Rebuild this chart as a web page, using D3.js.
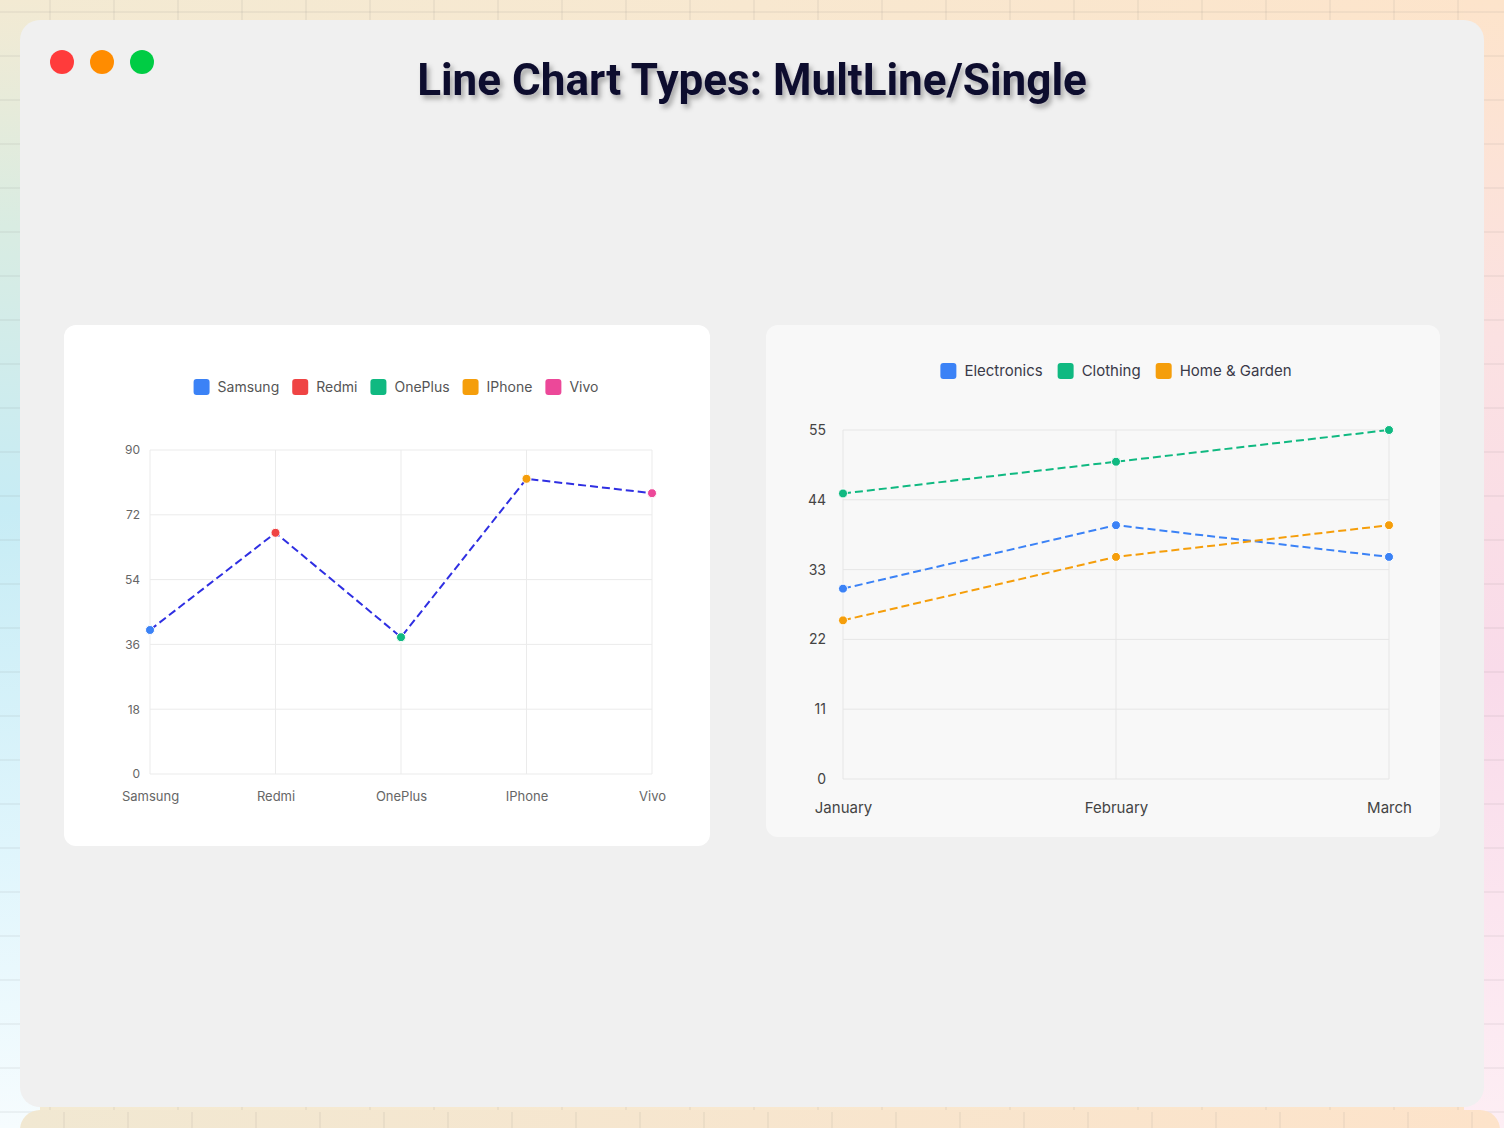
<!DOCTYPE html>
<html>
<head>
<meta charset="utf-8">
<script src="https://cdn.jsdelivr.net/npm/d3@7"></script>
<style>
  html, body { margin: 0; padding: 0; background: #f0f0f0; }
  svg { display: block; }
</style>
</head>
<body>
<div id="page"></div>
<script>
// --- DATA ---
var phoneNames = ["Samsung", "Redmi", "OnePlus", "IPhone", "Vivo"];
var phoneValues = [40, 67, 38, 82, 78];
var phoneColors = ["#3b82f6", "#ef4444", "#10b981", "#f59e0b", "#ec4899"];
var phoneTicks = [0, 18, 36, 54, 72, 90];

var months = ["January", "February", "March"];
var salesSeries = [
  { name: "Electronics", color: "#3b82f6", values: [30, 40, 35] },
  { name: "Clothing", color: "#10b981", values: [45, 50, 55] },
  { name: "Home & Garden", color: "#f59e0b", values: [25, 35, 40] }
];
var salesTicks = [0, 11, 22, 33, 44, 55];

var titleText = "Line Chart Types: MultLine/Single";

// --- SETUP ---
var W = 1504, H = 1128;
var svg = d3.select("#page").append("svg").attr("width", W).attr("height", H);
var defs = svg.append("defs");

function linGrad(id, x2, y2, stops) {
  var g = defs.append("linearGradient").attr("id", id)
    .attr("x1", 0).attr("y1", 0).attr("x2", x2).attr("y2", y2);
  stops.forEach(function(s) { g.append("stop").attr("offset", s[0]).attr("stop-color", s[1]); });
}
linGrad("gTop", 1, 0, [[0, "#f3ead3"], [0.5, "#f8e8d0"], [1, "#fde4cb"]]);
linGrad("gLeft", 0, 1, [[0, "#f3ead3"], [0.2, "#d9ece2"], [0.45, "#c7ecf5"], [0.75, "#dff5fc"], [1, "#f6fcfe"]]);
linGrad("gRight", 0, 1, [[0, "#fde4cb"], [0.3, "#fbe1e2"], [0.6, "#f9dbea"], [1, "#fdeef4"]]);
linGrad("gBottom", 1, 0, [[0, "#f1e8d2"], [1, "#fde3ca"]]);

var shadow = defs.append("filter").attr("id", "titleShadow")
  .attr("x", "-10%").attr("y", "-30%").attr("width", "120%").attr("height", "160%");
shadow.append("feDropShadow").attr("dx", 3).attr("dy", 4).attr("stdDeviation", 2.5)
  .attr("flood-color", "#000").attr("flood-opacity", 0.3);

// --- 1. BACKGROUND ---
svg.append("rect").attr("width", W).attr("height", H).attr("fill", "url(#gTop)");
svg.append("rect").attr("x", 0).attr("y", 0).attr("width", 40).attr("height", H).attr("fill", "url(#gLeft)");
svg.append("rect").attr("x", W - 40).attr("y", 0).attr("width", 40).attr("height", H).attr("fill", "url(#gRight)");

var bgGrid = svg.append("g").attr("stroke", "rgba(120,120,120,0.08)").attr("stroke-width", 2);
d3.range(50, W, 64).forEach(function(x) {
  bgGrid.append("line").attr("x1", x).attr("x2", x).attr("y1", 0).attr("y2", H);
});
d3.range(12, H, 44).forEach(function(y) {
  bgGrid.append("line").attr("x1", 0).attr("x2", W).attr("y1", y).attr("y2", y);
});

// next section peeking at the bottom
svg.append("rect").attr("x", 20).attr("y", 1110).attr("width", 1480).attr("height", 60)
  .attr("rx", 20).attr("fill", "url(#gBottom)");
var botGrid = svg.append("g").attr("stroke", "rgba(120,120,120,0.08)").attr("stroke-width", 2);
d3.range(64, W, 64).forEach(function(x) {
  botGrid.append("line").attr("x1", x).attr("x2", x).attr("y1", 1112).attr("y2", H);
});

// main window card
svg.append("rect").attr("x", 20).attr("y", 20).attr("width", 1464).attr("height", 1087)
  .attr("rx", 20).attr("fill", "#f0f0f0");

// window buttons
[["#ff3b3b", 62], ["#ff8c00", 102], ["#00cc44", 142]].forEach(function(b) {
  svg.append("circle").attr("cx", b[1]).attr("cy", 62).attr("r", 12).attr("fill", b[0]);
});

// title
svg.append("text").attr("x", 752).attr("y", 95)
  .attr("text-anchor", "middle")
  .attr("font-family", "Roboto, sans-serif").attr("font-weight", 700)
  .attr("font-size", 44).attr("fill", "#0e0b2e")
  .attr("filter", "url(#titleShadow)")
  .text(titleText);

// --- 2. HELPERS ---
function drawLegend(g, items, cx, cy, font, size, color, gap) {
  var lg = g.append("g");
  var x = 0;
  items.forEach(function(it) {
    var item = lg.append("g").attr("transform", "translate(" + x + ",0)");
    item.append("rect").attr("x", 0).attr("y", -8).attr("width", 16).attr("height", 16)
      .attr("rx", 3).attr("fill", it.color);
    var t = item.append("text").attr("x", 24).attr("y", 0).attr("dy", "0.35em")
      .attr("font-family", font).attr("font-size", size).attr("fill", color)
      .text(it.name);
    x += 24 + t.node().getComputedTextLength() + gap;
  });
  var total = x - gap;
  lg.attr("transform", "translate(" + (cx - total / 2) + "," + cy + ")");
}

function dashedLine(g, pts, x, y, color) {
  g.append("path").datum(pts)
    .attr("fill", "none").attr("stroke", color).attr("stroke-width", 2)
    .attr("stroke-dasharray", "8,4")
    .attr("d", d3.line().x(function(d) { return x(d.k); }).y(function(d) { return y(d.v); }));
}

// --- 3. LEFT CARD: single line ---
var left = svg.append("g");
left.append("rect").attr("x", 64).attr("y", 325).attr("width", 646).attr("height", 521)
  .attr("rx", 12).attr("fill", "#ffffff");

var lx = d3.scalePoint().domain(phoneNames).range([150, 652]);
var ly = d3.scaleLinear().domain([0, 90]).range([774, 450]);

var lGrid = left.append("g").attr("stroke", "#ebebeb").attr("stroke-width", 1);
phoneTicks.forEach(function(t) {
  lGrid.append("line").attr("x1", lx.range()[0]).attr("x2", lx.range()[1]).attr("y1", ly(t)).attr("y2", ly(t));
});
phoneNames.forEach(function(n) {
  lGrid.append("line").attr("x1", lx(n)).attr("x2", lx(n)).attr("y1", ly(0)).attr("y2", ly(90));
});

var lyAxis = left.append("g").attr("transform", "translate(" + lx.range()[0] + ",0)")
  .call(d3.axisLeft(ly).tickValues(phoneTicks).tickSize(0).tickPadding(10));
lyAxis.select(".domain").remove();
lyAxis.selectAll("text").attr("font-family", "Inter, sans-serif").attr("font-size", 12).attr("fill", "#666");

var lxAxis = left.append("g").attr("transform", "translate(0," + ly(0) + ")")
  .call(d3.axisBottom(lx).tickSize(0).tickPadding(18));
lxAxis.select(".domain").remove();
lxAxis.selectAll("text").attr("font-family", "Inter, sans-serif").attr("font-size", 13).attr("fill", "#666");

var phonePts = phoneNames.map(function(n, i) { return { k: n, v: phoneValues[i], c: phoneColors[i] }; });
dashedLine(left, phonePts, lx, ly, "#2f2fe2");
left.selectAll(".pt").data(phonePts).enter().append("circle")
  .attr("cx", function(d) { return lx(d.k); }).attr("cy", function(d) { return ly(d.v); })
  .attr("r", 4.5).attr("fill", function(d) { return d.c; })
  .attr("stroke", "#fff").attr("stroke-width", 1);

drawLegend(left, phoneNames.map(function(n, i) { return { name: n, color: phoneColors[i] }; }),
  396, 387, "Inter, sans-serif", 14, "#555", 13);

// --- 4. RIGHT CARD: multi line ---
var right = svg.append("g");
right.append("rect").attr("x", 766).attr("y", 325).attr("width", 674).attr("height", 512)
  .attr("rx", 12).attr("fill", "#f8f8f8");

var rx = d3.scalePoint().domain(months).range([843, 1389]);
var ry = d3.scaleLinear().domain([0, 55]).range([779, 430]);

var rGrid = right.append("g").attr("stroke", "#e6e6e6").attr("stroke-width", 1);
salesTicks.forEach(function(t) {
  rGrid.append("line").attr("x1", rx.range()[0]).attr("x2", rx.range()[1]).attr("y1", ry(t)).attr("y2", ry(t));
});
months.forEach(function(m) {
  rGrid.append("line").attr("x1", rx(m)).attr("x2", rx(m)).attr("y1", ry(0)).attr("y2", ry(55));
});

var ryAxis = right.append("g").attr("transform", "translate(" + rx.range()[0] + ",0)")
  .call(d3.axisLeft(ry).tickValues(salesTicks).tickSize(0).tickPadding(17));
ryAxis.select(".domain").remove();
ryAxis.selectAll("text").attr("font-family", "Inter, sans-serif").attr("font-size", 14).attr("fill", "#444");

var rxAxis = right.append("g").attr("transform", "translate(0," + ry(0) + ")")
  .call(d3.axisBottom(rx).tickSize(0).tickPadding(23));
rxAxis.select(".domain").remove();
rxAxis.selectAll("text").attr("font-family", "Inter, sans-serif").attr("font-size", 15).attr("fill", "#444");

salesSeries.forEach(function(s) {
  var pts = months.map(function(m, i) { return { k: m, v: s.values[i] }; });
  dashedLine(right, pts, rx, ry, s.color);
});
salesSeries.forEach(function(s) {
  right.selectAll(null).data(months).enter().append("circle")
    .attr("cx", function(m) { return rx(m); })
    .attr("cy", function(m, i) { return ry(s.values[i]); })
    .attr("r", 4.5).attr("fill", s.color)
    .attr("stroke", "#fff").attr("stroke-width", 1);
});

drawLegend(right, salesSeries, 1116, 371, "Inter, sans-serif", 15, "#3a3a48", 15);
</script>
</body>
</html>
